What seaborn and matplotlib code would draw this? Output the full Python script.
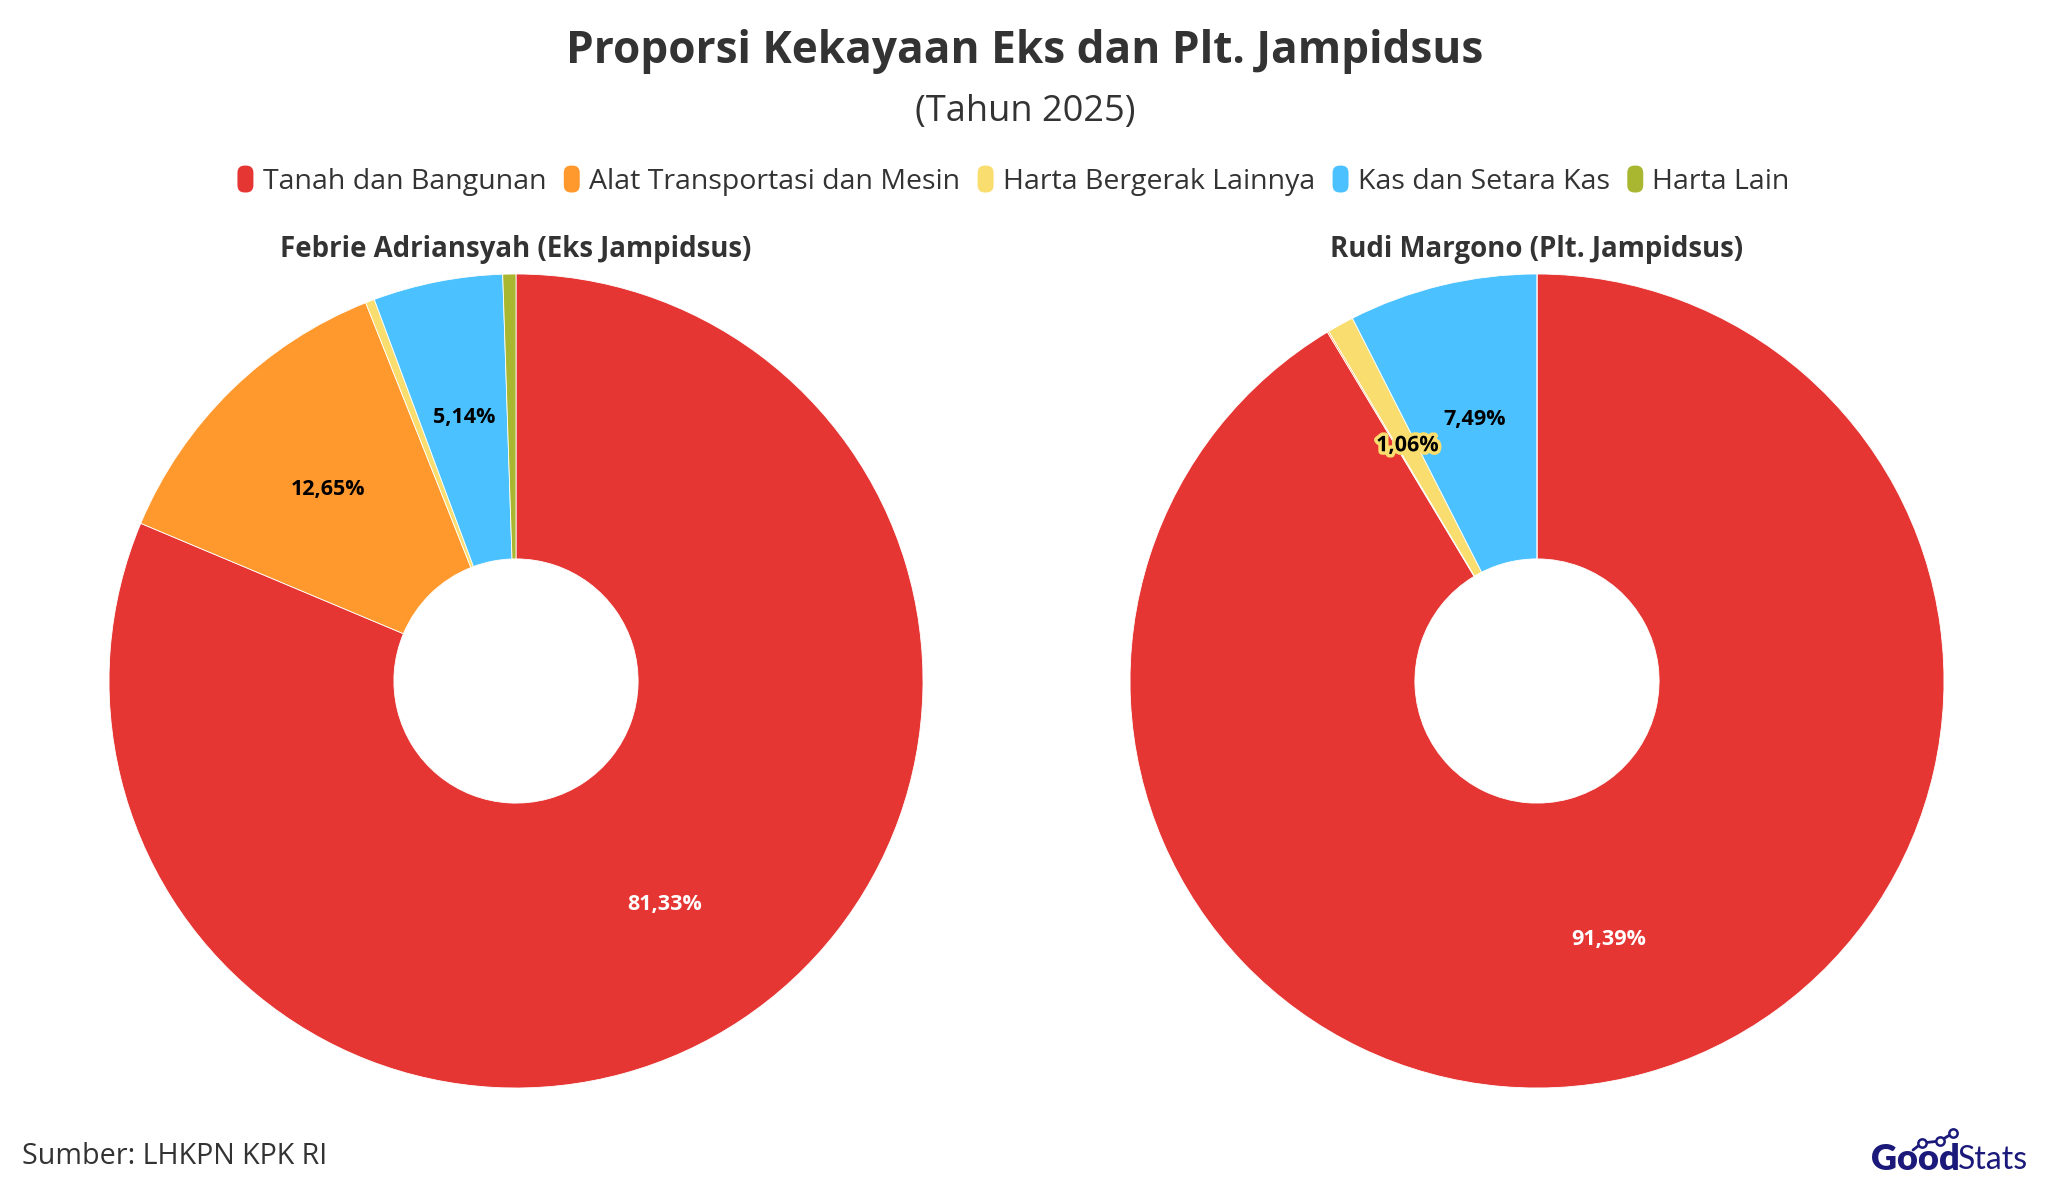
import matplotlib
matplotlib.use("Agg")
import matplotlib.pyplot as plt
import seaborn as sns
import matplotlib.patheffects as pe
from matplotlib.patches import FancyBboxPatch
from matplotlib.legend_handler import HandlerPatch
from matplotlib.lines import Line2D

categories = ["Tanah dan Bangunan", "Alat Transportasi dan Mesin", "Harta Bergerak Lainnya",
              "Kas dan Setara Kas", "Harta Lain"]
febrie_values = [81.33, 12.65, 0.36, 5.14, 0.52]
rudi_values = [91.39, 0.06, 1.06, 7.49, 0.00]
palette = ["#E53634", "#FF992E", "#F9DE6F", "#4BC2FF", "#A9B730"]
title = "Proporsi Kekayaan Eks dan Plt. Jampidsus"
subtitle = "(Tahun 2025)"
pie_titles = ["Febrie Adriansyah (Eks Jampidsus)", "Rudi Margono (Plt. Jampidsus)"]
source = "Sumber: LHKPN KPK RI"

sns.set_theme(style="white")
plt.rcParams["font.family"] = ["Open Sans", "DejaVu Sans"]

W, H = 2050, 1198
fig = plt.figure(figsize=(W / 100, H / 100), dpi=100)
fig.patch.set_facecolor("white")

def fx(px):
    return px / W

def fy(py):
    return 1 - py / H

R = 407
centers = [(516, 681), (1537, 681)]

def fmt(p):
    return ("%.2f%%" % p).replace(".", ",") if p >= 1 else ""

for i, (vals, (cx, cy)) in enumerate(zip([febrie_values, rudi_values], centers)):
    ax = fig.add_axes([fx(cx - R), (H - cy - R) / H, 2 * R / W, 2 * R / H])
    wedges, texts, autotexts = ax.pie(
        vals, colors=palette, startangle=90, counterclock=False, radius=1,
        wedgeprops=dict(width=0.7, edgecolor="white", linewidth=0.6),
        autopct=fmt, pctdistance=0.66,
        textprops=dict(fontsize=15.5, fontweight="bold", color="black"))
    ax.set_xlim(-1, 1)
    ax.set_ylim(-1, 1)
    ax.set_aspect("equal")
    ax.axis("off")
    for j, t in enumerate(autotexts):
        if j == 0:
            t.set_color("white")
        if j == 2 and t.get_text():
            t.set_path_effects([pe.withStroke(linewidth=5, foreground=palette[2])])
    fig.text(fx(cx), fy(249), pie_titles[i], ha="center", va="center",
             fontsize=19.9, fontweight="bold", color="#333333")

fig.text(0.5, fy(52), title, ha="center", va="center", fontsize=31.8,
         fontweight="bold", color="#333333")
fig.text(0.5, fy(112), subtitle, ha="center", va="center", fontsize=26, color="#333333")

class RoundHandler(HandlerPatch):
    def create_artists(self, legend, orig_handle, xdescent, ydescent, width, height, fontsize, trans):
        w = 0.8 * height
        h = 1.35 * height
        x0 = -xdescent + (width - w) / 2
        y0 = -ydescent + (height - h) / 2
        r = w * 0.45
        p = FancyBboxPatch((x0 + r, y0 + r), w - 2 * r, h - 2 * r,
                           boxstyle="round,pad=%f" % r,
                           facecolor=orig_handle.get_facecolor(), edgecolor="none",
                           transform=trans)
        return [p]

handles = [plt.Rectangle((0, 0), 1, 1, facecolor=c) for c in palette]
leg = fig.legend(handles, categories, loc="center", bbox_to_anchor=(0.4936, fy(182)),
                 ncol=5, frameon=False, fontsize=20.5, handlelength=0.8, handletextpad=0.2,
                 columnspacing=0.5, handler_map={plt.Rectangle: RoundHandler()})
for t in leg.get_texts():
    t.set_color("#333333")

fig.text(fx(22), fy(1156), source, ha="left", va="center", fontsize=20.6, color="#333333")

# logo
navy = "#1B1A7A"
fig.text(fx(1871), fy(1160), "Good", ha="left", va="center", fontsize=26,
         fontweight="heavy", color=navy, family=["Lato", "DejaVu Sans"])
fig.text(fx(1958), fy(1160), "Stats", ha="left", va="center", fontsize=23,
         fontweight="normal", color=navy, family=["Lato", "DejaVu Sans"])
fig.add_artist(Line2D([fx(1913), fx(1922), fx(1940), fx(1953)],
                      [fy(1150), fy(1143), fy(1141), fy(1133)],
                      transform=fig.transFigure, color=navy, lw=2))
fig.add_artist(Line2D([fx(1922), fx(1940), fx(1953)],
                      [fy(1143), fy(1141), fy(1133)],
                      transform=fig.transFigure, linestyle="none",
                      marker="o", markersize=6, markerfacecolor="white",
                      markeredgecolor=navy, markeredgewidth=1.8))

fig.savefig("out.png", dpi=100, facecolor="white")
